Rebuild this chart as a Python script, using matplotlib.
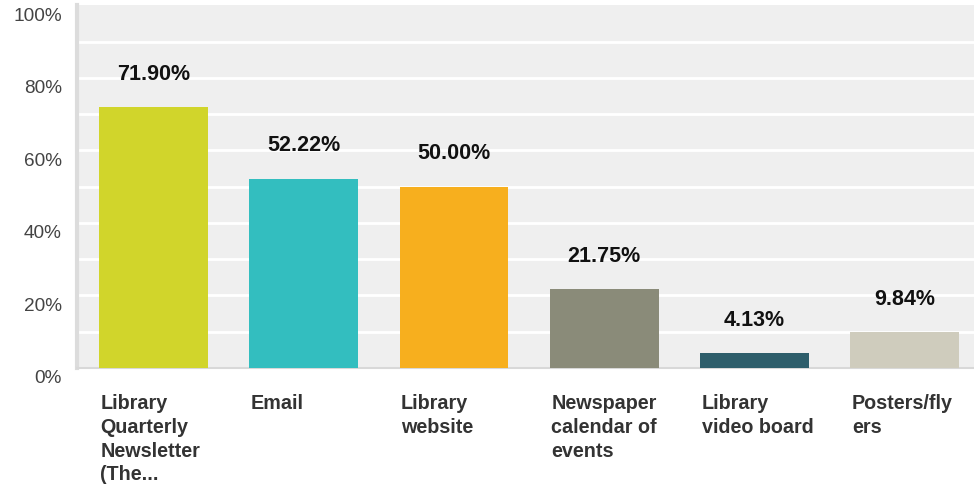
import matplotlib.pyplot as plt
from matplotlib import transforms

plt.rcParams['font.family'] = ['Liberation Sans', 'DejaVu Sans']

categories = ["Library\nQuarterly\nNewsletter\n(The...", "Email", "Library\nwebsite",
              "Newspaper\ncalendar of\nevents", "Library\nvideo board", "Posters/fly\ners"]
percents = [71.90, 52.22, 50.00, 21.75, 4.13, 9.84]
colors = ['#D1D52B', '#33BEBF', '#F7AF1E', '#8A8B79', '#2E5E6B', '#CFCCBD']
yticks = [0, 20, 40, 60, 80, 100]

fig = plt.figure(figsize=(9.74, 4.86), dpi=100)
ax = fig.add_axes([0.079, 0.243, 0.921, 0.746])
ax.set_facecolor('#EFEFEF')

x = list(range(len(categories)))
width = 0.725
ax.bar(x, percents, width=width, color=colors, zorder=3)

# white grid every 10%
for g in range(10, 100, 10):
    ax.axhline(g, color='white', linewidth=2, zorder=1)

ax.set_xlim(-0.509, 5.46)
ax.set_ylim(0, 100)

for s in ['top', 'right']:
    ax.spines[s].set_visible(False)
ax.spines['left'].set_color('#DCDCDC')
ax.spines['left'].set_linewidth(3)
ax.spines['bottom'].set_color('#D8D8D8')
ax.spines['bottom'].set_linewidth(1.5)

ax.set_xticks([])
ax.set_yticks(yticks)
ax.set_yticklabels([f'{t}%' for t in yticks], fontsize=13.7, color='#444444')
ax.tick_params(axis='y', length=0, pad=11)
shift = transforms.ScaledTranslation(0, -0.09, fig.dpi_scale_trans)
for lbl in ax.get_yticklabels():
    lbl.set_transform(lbl.get_transform() + shift)

for xi, v in zip(x, percents):
    ax.annotate(f'{v:.2f}%', (xi, v), xytext=(0, 19.7), textcoords='offset points',
                ha='center', va='baseline', fontsize=15.5, fontweight='bold', color='#111111')

trans = transforms.blended_transform_factory(ax.transData, ax.transAxes)
for xi, name in zip(x, categories):
    ax.text(xi - width / 2 + 0.01, -0.072, name, transform=trans, ha='left', va='top',
            fontsize=14.2, fontweight='bold', color='#333333', linespacing=1.32)

fig.savefig('out.png', dpi=100)
